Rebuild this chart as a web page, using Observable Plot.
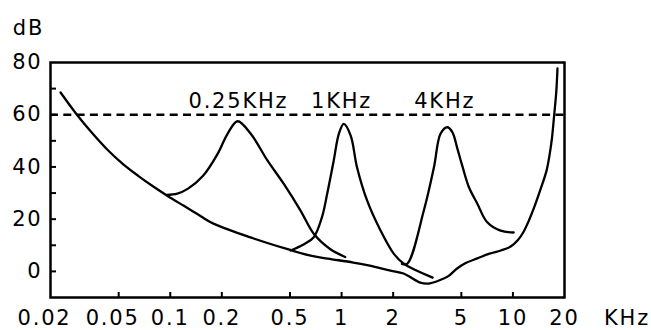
<!DOCTYPE html>
<html><head><meta charset="utf-8">
<script src="https://cdn.jsdelivr.net/npm/d3@7"></script>
<script src="https://cdn.jsdelivr.net/npm/@observablehq/plot@0.6"></script>
<style>html,body{margin:0;padding:0;background:#fff}</style>
</head><body><div id="chart"></div>
<script>
// Threshold in quiet
const thrFreq = [0.0229, 0.0283, 0.035, 0.043, 0.053, 0.065, 0.08, 0.097, 0.12, 0.15, 0.18, 0.307, 0.49, 0.66, 0.83, 1.17, 1.46, 1.93, 2.3, 2.88, 3.2, 3.7, 4.2, 4.7, 5.3, 6.2, 7.3, 8.5, 9.7, 10.7, 11.5, 12.4, 13.3, 14.5, 15.7, 16.4, 16.9, 17.4, 17.9, 18.2];
const thrDb   = [68.5, 60.3, 53.0, 46.6, 41.1, 36.6, 32.4, 28.8, 25.1, 21.2, 18.2, 12.6, 8.4, 6.0, 4.9, 3.4, 2.2, 0.3, -0.8, -4.3, -4.7, -3.5, -1.8, 1.0, 3.2, 5.0, 6.8, 8.0, 9.5, 12.0, 15.0, 19.5, 24.5, 31.5, 38.5, 45.0, 51.0, 59.7, 68.6, 77.7];
// Masking curve, 0.25 KHz
const m025Freq = [0.095, 0.11, 0.127, 0.155, 0.189, 0.216, 0.247, 0.295, 0.369, 0.46, 0.576, 0.688, 0.86, 1.05];
const m025Db   = [29.3, 29.8, 31.7, 36.5, 45.0, 52.7, 57.5, 52.7, 42.5, 33.5, 23.3, 14.4, 8.5, 5.5];
// Masking curve, 1 KHz
const m1Freq = [0.504, 0.6, 0.688, 0.77, 0.824, 0.9, 0.964, 1.03, 1.13, 1.23, 1.41, 1.69, 2.02, 2.3, 3.4];
const m1Db   = [8.0, 10.3, 13.1, 21.0, 29.7, 42.5, 52.7, 56.5, 52.0, 39.9, 27.1, 15.6, 6.7, 3.0, -2.4];
// Masking curve, 4 KHz
const m4Freq = [2.25, 2.42, 3.02, 3.46, 3.78, 4.14, 4.43, 4.74, 5.06, 5.53, 6.2, 7.08, 8.47, 10.1];
const m4Db   = [2.9, 3.0, 23.3, 39.9, 52.7, 55.2, 53.3, 47.0, 40.5, 32.3, 25.9, 18.8, 15.6, 14.9];

const refLevel = [60];
const peakLabels = ["0.25KHz", "1KHz", "4KHz"];
const peakLabelFreq = [0.25, 1, 4];
const peakLabelDb = [65.3, 65.3, 65.3];

const yLabelVals = [0, 20, 40, 60, 80];
const yTickVals = [0, 10, 20, 30, 40, 50, 60, 70];
const xLabelVals = [0.02, 0.05, 0.1, 0.2, 0.5, 1, 2, 5, 10, 20];
const xLabelText = ["0.02", "0.05", "0.1", "0.2", "0.5", "1", "2", "5", "10", "20"];
const xTickVals = [0.05, 0.1, 0.2, 0.5, 1, 2, 5, 10];
const yUnit = "dB";
const xUnit = "KHz";

const pts = (f, d) => f.map((v, i) => ({f: v, db: d[i]}));
const lineOpts = {x: "f", y: "db", stroke: "#000", strokeWidth: 2.3, curve: "catmull-rom"};
const xLab = xLabelVals.map((v, i) => ({v, t: xLabelText[i]}));

const chart = Plot.plot({
  width: 651, height: 330,
  marginLeft: 50, marginRight: 87, marginTop: 62, marginBottom: 33,
  style: {fontFamily: "DejaVu Sans", fontSize: "21px", letterSpacing: "1.8px", color: "#000", background: "#fff"},
  x: {type: "log", domain: [0.02, 20], axis: null},
  y: {domain: [-10, 80], axis: null},
  marks: [
    Plot.axisY({ticks: yTickVals, tickSize: 6, dx: 6, tickFormat: () => "", label: null, strokeWidth: 2}),
    Plot.axisY({ticks: yLabelVals, tickSize: 0, tickPadding: 8, label: null}),
    Plot.ruleX(xTickVals, {stroke: "#000", strokeWidth: 2, insetTop: 230}),
    Plot.text(xLab.slice(0, 2), {x: "v", text: "t", frameAnchor: "bottom", lineAnchor: "top", dy: 13, dx: -6, fill: "#000"}),
    Plot.text(xLab.slice(2), {x: "v", text: "t", frameAnchor: "bottom", lineAnchor: "top", dy: 13, fill: "#000"}),
    Plot.ruleY(refLevel, {stroke: "#000", strokeWidth: 2.5, strokeDasharray: "8,5.3"}),
    Plot.line(pts(thrFreq, thrDb), lineOpts),
    Plot.line(pts(m025Freq, m025Db), lineOpts),
    Plot.line(pts(m1Freq, m1Db), lineOpts),
    Plot.line(pts(m4Freq, m4Db), lineOpts),
    Plot.text(peakLabels, {x: (d, i) => peakLabelFreq[i], y: (d, i) => peakLabelDb[i], text: d => d, textAnchor: "middle", lineAnchor: "middle", fill: "#000"}),
    Plot.text([yUnit], {frameAnchor: "top-left", text: d => d, dx: -22, dy: -34, textAnchor: "middle", lineAnchor: "middle", fill: "#000"}),
    Plot.text([xUnit], {frameAnchor: "bottom-right", text: d => d, dx: 62.5, dy: 21, textAnchor: "middle", lineAnchor: "middle", fill: "#000"}),
    Plot.frame({stroke: "#000", strokeWidth: 2.5})
  ]
});
document.getElementById("chart").appendChild(chart);
</script>
</body></html>
